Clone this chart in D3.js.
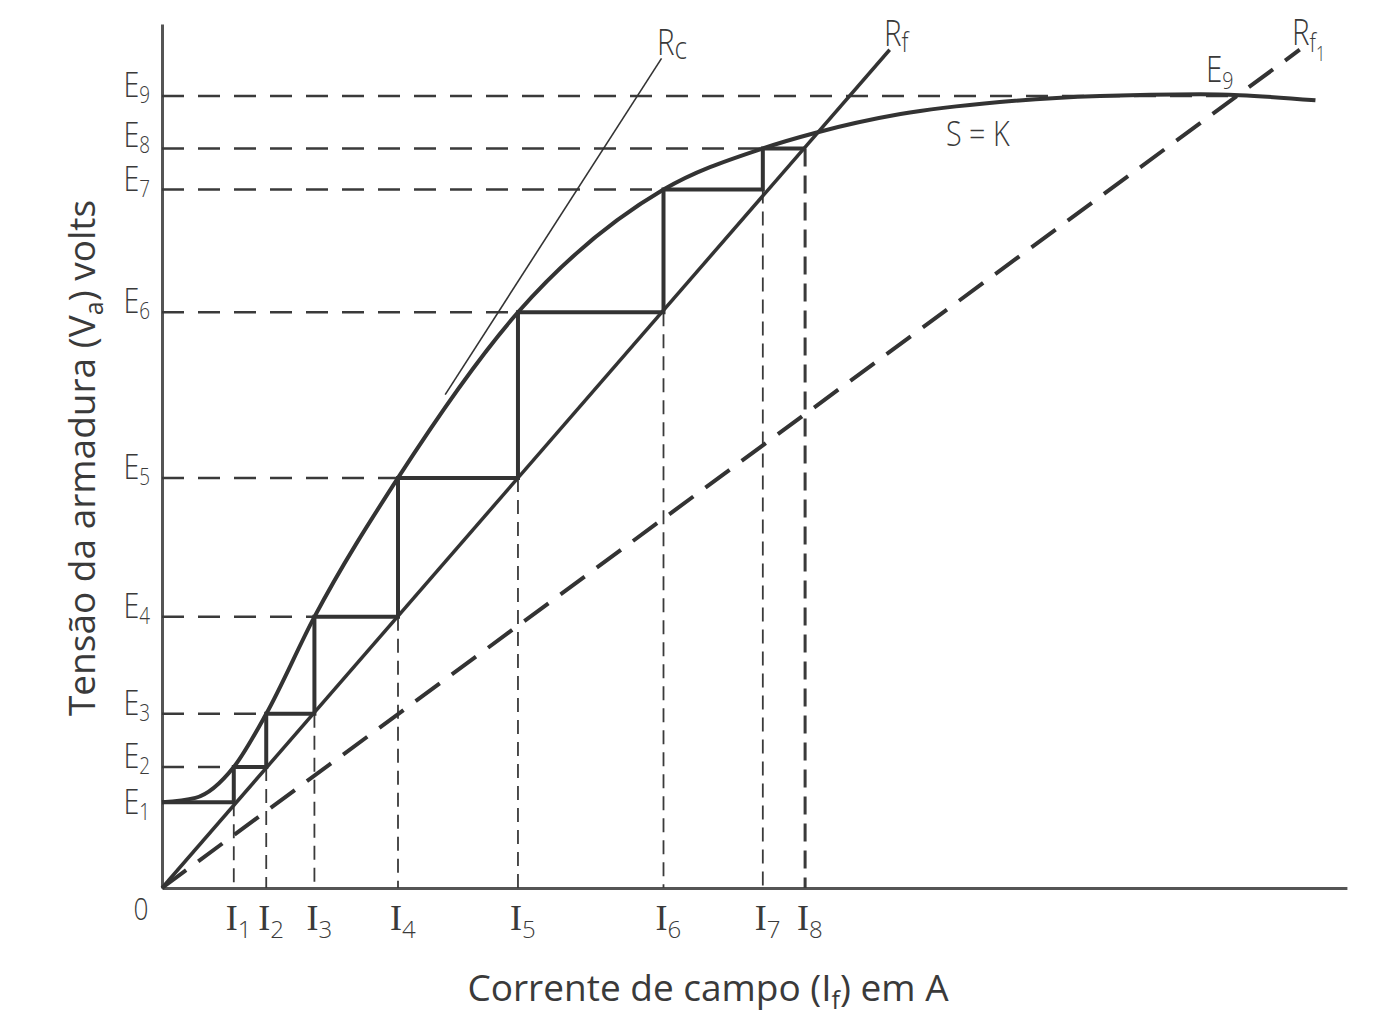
<!DOCTYPE html>
<html><head><meta charset="utf-8">
<script src="https://cdn.jsdelivr.net/npm/d3@7"></script>
<style>
html,body{margin:0;padding:0;background:#fff;}
text{fill:#3a3a3a;}
.lab{font-family:"Open Sans","Noto Sans",sans-serif;font-weight:300;}
.ttl{font-family:"Open Sans","Noto Sans",sans-serif;}
.ser{font-family:"Liberation Serif","DejaVu Serif",serif;}
</style></head>
<body>
<svg id="c" width="1388" height="1024"></svg>
<script>
// ---- data (arbitrary units) ----
const E = [1.00, 1.41, 2.03, 3.16, 4.78, 6.71, 8.14, 8.62, 9.23];      // E1..E9
const I = [0.73, 1.06, 1.55, 2.40, 3.62, 5.10, 6.11, 6.54];            // I1..I8
const satI = [0, 0.34, 0.73, 1.06, 1.55, 2.40, 3.62, 5.10, 6.11, 6.64, 7.51, 8.52, 9.54, 10.56, 10.96, 11.73];
const satE = [1.00, 1.05, 1.41, 2.03, 3.16, 4.78, 6.71, 8.14, 8.62, 8.80, 9.02, 9.16, 9.23, 9.25, 9.24, 9.18];
const RfLine  = [[0, 0], [7.40, 9.77]];
const Rf1Line = [[0, 0], [11.57, 9.77]];
const RcLine  = [[2.88, 5.75], [5.08, 9.67]];
const E9end = 10.96;
const xLabel = "Corrente de campo (I", xSub = "f", xLabel2 = ") em A";
const yLabel = "Tensão da armadura (V", ySub = "a", yLabel2 = ") volts";

const svg = d3.select("#c");
const x = d3.scaleLinear().domain([0, 12]).range([162, 1342]);
const y = d3.scaleLinear().domain([0, 10]).range([888, 30]);
const ink = "#333";

// axes
svg.append("g").attr("transform", `translate(0,${y(0)})`)
  .call(d3.axisBottom(d3.scaleLinear().domain([0, 12.05]).range([x(0), x(12.05)])).tickValues([]).tickSizeOuter(0))
  .call(g => g.select(".domain").attr("stroke", "#555").attr("stroke-width", 3));
svg.append("g").attr("transform", `translate(${x(0)},0)`)
  .call(d3.axisLeft(d3.scaleLinear().domain([0, 10.07]).range([y(0), y(10.07)])).tickValues([]).tickSizeOuter(0))
  .call(g => g.select(".domain").attr("stroke", "#555").attr("stroke-width", 3));

const line = d3.line().x(d => x(d[0])).y(d => y(d[1]));

// horizontal dashed E lines
const hEnds = [null, I[0], I[1], I[2], I[3], I[4], I[5], I[6], E9end];
E.forEach((e, k) => {
  if (hEnds[k] == null) return;
  svg.append("path").attr("d", line([[0, e], [hEnds[k], e]]))
    .attr("stroke", "#3a3a3a").attr("stroke-width", 2.5).attr("fill", "none")
    .attr("stroke-dasharray", "22,14");
});
// vertical dashed I lines
I.forEach((v, k) => {
  svg.append("path").attr("d", line([[v, E[k]], [v, 0]]))
    .attr("stroke", "#3a3a3a").attr("stroke-width", k === 7 ? 3 : 1.8).attr("fill", "none")
    .attr("stroke-dasharray", k === 7 ? "18,9" : "14,8");
});

// Rf1 dashed
svg.append("path").attr("d", line(Rf1Line)).attr("stroke", ink).attr("stroke-width", 4)
  .attr("fill", "none").attr("stroke-dasharray", "30,15");
// Rf
svg.append("path").attr("d", line(RfLine)).attr("stroke", ink).attr("stroke-width", 3.5).attr("fill", "none");
// Rc
svg.append("path").attr("d", line(RcLine)).attr("stroke", ink).attr("stroke-width", 1.6).attr("fill", "none");

// saturation curve
const sat = satI.map((v, i) => [v, satE[i]]);
svg.append("path").attr("d", d3.line().x(d => x(d[0])).y(d => y(d[1])).curve(d3.curveMonotoneX)(sat))
  .attr("stroke", ink).attr("stroke-width", 4).attr("fill", "none");

// staircase: (0,E1)->(I1,E1)->(I1,E2)->(I2,E2)->...->(I7,E8)->(I8,E8)
const stair = [[0, E[0]], [I[0], E[0]]];
for (let k = 0; k < 7; k++) { stair.push([I[k], E[k + 1]]); stair.push([I[k + 1], E[k + 1]]); }
svg.append("path").attr("d", line(stair)).attr("stroke", ink).attr("stroke-width", 4)
  .attr("fill", "none").attr("stroke-linejoin", "miter");

// narrow label helper
function narrow(px, py, anchor, size) {
  return svg.append("text").attr("class", "lab")
    .attr("transform", `translate(${px},${py}) scale(0.82,1)`)
    .attr("text-anchor", anchor).attr("font-size", size);
}
// E labels
E.forEach((e, k) => {
  const t = narrow(150, y(e) + (k === 0 ? 12 : (k === 7 ? -1 : 1)), "end", 35);
  t.append("tspan").text("E");
  t.append("tspan").attr("font-size", 23).attr("dy", 6).text(k + 1);
});
// I labels
I.forEach((v, k) => {
  const t = svg.append("text").attr("x", x(v) - 8).attr("y", 930).attr("font-size", 36);
  t.append("tspan").attr("class", "ser").text("I");
  t.append("tspan").attr("class", "lab").attr("font-size", 24).attr("dy", 8).text(k + 1);
});
narrow(141, 920, "middle", 32).text("0");

// line labels
function sublab(px, py, main, subs, size) {
  const t = narrow(px, py, "start", size || 36);
  t.append("tspan").text(main);
  subs.forEach(s => t.append("tspan").attr("font-size", s[2] || 24).attr("dy", s[1]).text(s[0]));
}
sublab(657, 55, "R", [["c", 4, 32]]);
sublab(884, 46, "R", [["f", 6, 28]]);
sublab(1292, 45, "R", [["f", 7, 26], ["1", 9, 20]]);
sublab(1206, 82, "E", [["9", 7]]);
narrow(946, 146, "start", 35).text("S = K");

// axis titles
const xt = svg.append("text").attr("class", "ttl").attr("x", 708).attr("y", 1001)
  .attr("text-anchor", "middle").attr("font-size", 37);
xt.append("tspan").text(xLabel);
xt.append("tspan").attr("font-size", 25).attr("dy", 8).text(xSub);
xt.append("tspan").attr("dy", -8).text(xLabel2);

const yt = svg.append("text").attr("class", "ttl")
  .attr("transform", "translate(95,458) rotate(-90)")
  .attr("text-anchor", "middle").attr("font-size", 37);
yt.append("tspan").text(yLabel);
yt.append("tspan").attr("font-size", 25).attr("dy", 8).text(ySub);
yt.append("tspan").attr("dy", -8).text(yLabel2);
</script>
</body></html>
